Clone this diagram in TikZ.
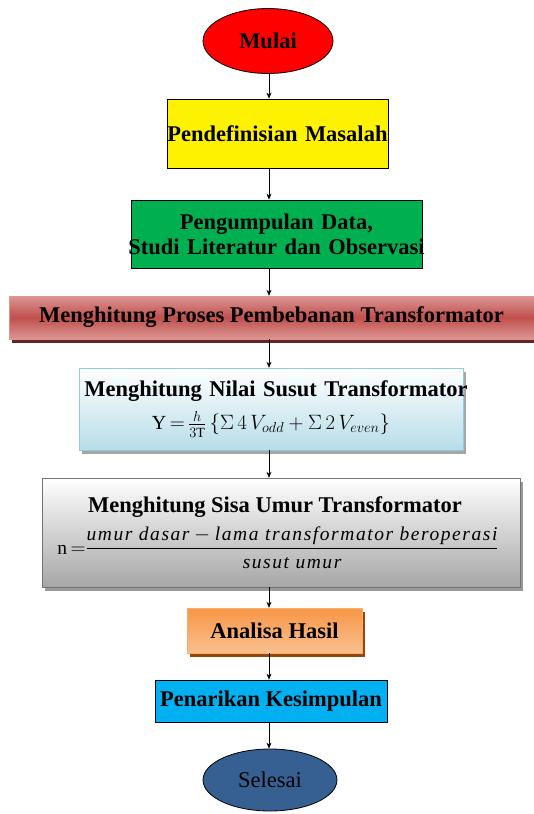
\documentclass[tikz,border=0pt]{standalone}
\usepackage{amsmath}
\usepackage{fontspec}
\setmainfont{Liberation Serif}
\usetikzlibrary{shapes.geometric,shadows,arrows.meta}

\definecolor{hijau}{RGB}{0,176,80}
\definecolor{merahmuda}{RGB}{220,150,148}
\definecolor{merahtua}{RGB}{192,80,77}
\definecolor{bayangmerah}{RGB}{99,36,35}
\definecolor{birumuda}{RGB}{183,221,232}
\definecolor{garisbiru}{RGB}{146,205,220}
\definecolor{abu}{RGB}{166,166,166}
\definecolor{oranye}{RGB}{247,150,70}
\definecolor{oranyemuda}{RGB}{250,192,144}
\definecolor{coklat}{RGB}{152,72,6}
\definecolor{birulangit}{RGB}{0,176,240}
\definecolor{birutua}{RGB}{55,96,146}

\newcommand{\tengah}[1]{\makebox[\linewidth][c]{#1}}

\tikzset{
  dasar/.style={inner sep=0pt, align=center, font=\bfseries\fontsize{22.5}{25}\selectfont},
  terminal/.style={dasar, ellipse, draw=black, thick},
  proses/.style={dasar, rectangle, draw=black, thick},
  bayang/.style={drop shadow={shadow xshift=3pt, shadow yshift=-4pt, fill=#1, opacity=1}},
  arah/.style={->, >={Stealth[length=6pt,width=5pt]}, semithick}
}

\begin{document}
\begin{tikzpicture}[x=1pt, y=-1pt]
  \useasboundingbox (0,0) rectangle (534,814);
  \coordinate (poros) at (269,0);

  % Mulai dan Selesai
  \node[terminal, fill=red, minimum width=130pt, minimum height=65pt] (mulai) at (268,41) {Mulai};
  \node[terminal, fill=birutua, minimum width=134pt, minimum height=62pt] (selesai) at (270,780) {\mdseries Selesai};

  % Langkah-langkah
  \node[proses, fill=yellow, minimum width=221pt, minimum height=69pt, text width=221pt] (masalah) at (277.5,133.5)
    {\tengah{Pendefinisian Masalah}};
  \node[proses, fill=hijau, minimum width=291pt, minimum height=68pt, text width=291pt] (data) at (276.5,234)
    {\tengah{Pengumpulan Data,}\\ \tengah{Studi Literatur dan Observasi}};
  \node[dasar, draw=merahmuda, bayang=bayangmerah, top color=merahmuda, bottom color=merahmuda, middle color=merahtua,
    minimum width=525pt, minimum height=43pt] (beban) at (271.5,317.5) {Menghitung Proses Pembebanan Transformator};
  \node[dasar, draw=garisbiru, bayang=black!35, top color=white, bottom color=birumuda,
    minimum width=384pt, minimum height=82pt, text width=384pt] (susut) at (271,409)
    {\tengah{\hspace{10pt}Menghitung Nilai Susut Transformator}\\[8pt]
     \mdseries\fontsize{20}{20}\selectfont
     \tengah{$\mathrm{Y}\,{=}\,\frac{h}{3\mathrm{T}}\,\{\Sigma\,4\,V_{odd}+\Sigma\,2\,V_{even}\}$}};
  \node[dasar, draw=black!55, bayang=black!40, top color=white, bottom color=abu,
    minimum width=478pt, minimum height=109pt] (umur) at (281,532.5)
    {\hspace{-12pt}Menghitung Sisa Umur Transformator\\[8pt]
     \mdseries\fontsize{19.5}{20}\selectfont\addfontfeature{LetterSpace=8}%
     \hspace{-6pt}$\mathrm{n}\,{=}\dfrac{\textit{umur dasar}-\textit{lama transformator beroperasi}}{\textit{susut umur}}$};
  \node[dasar, draw=oranye!80, bayang=coklat, top color=oranye, bottom color=oranyemuda,
    minimum width=175pt, minimum height=45pt] (analisa) at (274.5,630.5) {Analisa Hasil};
  \node[proses, fill=birulangit, minimum width=232pt, minimum height=42pt] (simpulan) at (271,701) {Penarikan Kesimpulan};

  % Panah
  \foreach \a/\b in {mulai/masalah, masalah/data, data/beban, beban/susut, susut/umur,
                     umur/analisa, analisa/simpulan, simpulan/selesai}
    \draw[arah] (\a.south -| poros) -- (\b.north -| poros);
\end{tikzpicture}
\end{document}
